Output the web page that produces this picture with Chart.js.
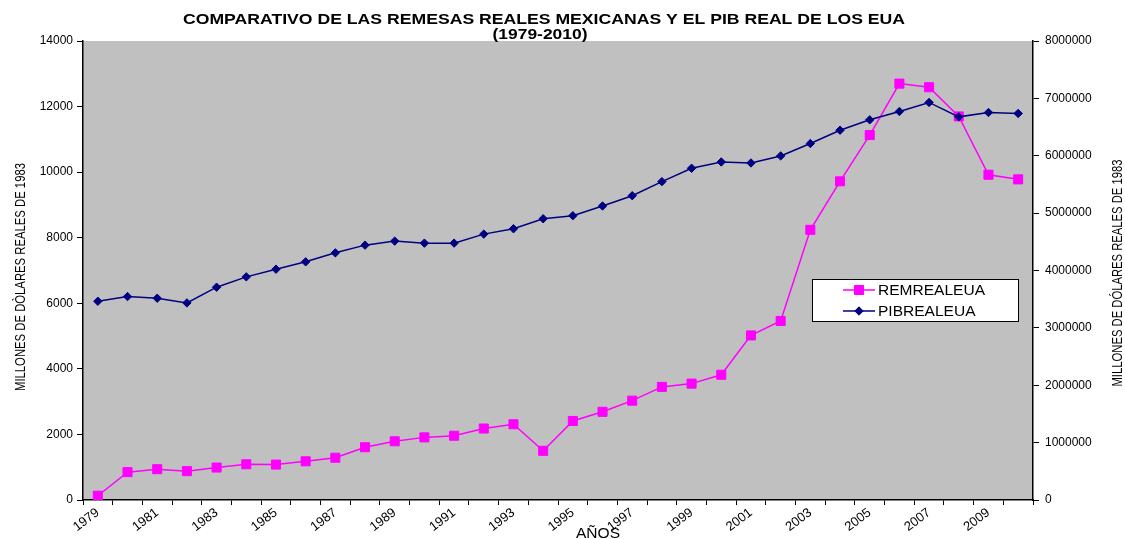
<!DOCTYPE html>
<html lang="es">
<head>
    <meta charset="UTF-8">
    <title>Remesas y PIB</title>
    <script src="https://cdn.jsdelivr.net/npm/chart.js"></script>
    <style>
        body { margin: 0; background: #ffffff; }
        canvas { display: block; }
    </style>
</head>
<body>
    <canvas id="remChart" width="1125" height="539"></canvas>
    <script>
        const years = ['1979', '1980', '1981', '1982', '1983', '1984', '1985', '1986',
            '1987', '1988', '1989', '1990', '1991', '1992', '1993', '1994',
            '1995', '1996', '1997', '1998', '1999', '2000', '2001', '2002',
            '2003', '2004', '2005', '2006', '2007', '2008', '2009', '2010'];

        // millones de dolares reales de 1983 (eje izquierdo)
        const remRealEua = [130, 850, 940, 880, 990, 1090, 1080, 1180,
            1290, 1610, 1790, 1910, 1960, 2180, 2310, 1500,
            2410, 2690, 3030, 3450, 3550, 3820, 5020, 5460,
            8240, 9720, 11130, 12700, 12590, 11700, 9920, 9780];

        // eje derecho
        const pibRealEua = [3464000, 3546000, 3517000, 3435000, 3709000, 3889000, 4023000, 4151000,
            4308000, 4442000, 4512000, 4477000, 4477000, 4634000, 4728000, 4902000,
            4955000, 5124000, 5304000, 5549000, 5782000, 5892000, 5874000, 5997000,
            6213000, 6445000, 6626000, 6772000, 6929000, 6678000, 6754000, 6737000];

        const seriesNames = ['REMREALEUA', 'PIBREALEUA'];
        const titleLines = ['COMPARATIVO DE LAS REMESAS REALES MEXICANAS Y EL PIB REAL DE LOS EUA', '(1979-2010)'];
        const leftTitle = 'MILLONES DE DÒLARES REALES DE 1983';
        const rightTitle = 'MILLONES DE DÓLARES REALES DE 1983';
        const xTitle = 'AÑOS';

        const FONT = "'Liberation Sans', Arial, sans-serif";

        // draws text squeezed/stretched to a given width (the original picture is stretched)
        function fitText(ctx, text, x, y, font, width, rot) {
            ctx.save();
            ctx.font = font;
            const k = width / ctx.measureText(text).width;
            ctx.translate(x, y);
            if (rot) ctx.rotate(rot);
            ctx.scale(k, 1);
            ctx.textAlign = 'center';
            ctx.textBaseline = 'alphabetic';
            ctx.fillStyle = '#000';
            ctx.fillText(text, 0, 0);
            ctx.restore();
            return k;
        }

        const decor = {
            id: 'decor',
            beforeDraw(chart) {
                const a = chart.chartArea;
                const ctx = chart.ctx;
                ctx.save();
                ctx.fillStyle = '#C0C0C0';
                ctx.fillRect(a.left, a.top, a.right - a.left, a.bottom - a.top);
                ctx.restore();
            },
            afterDraw(chart) {
                const ctx = chart.ctx;
                fitText(ctx, titleLines[0], 544, 24, 'bold 15px ' + FONT, 722);
                fitText(ctx, titleLines[1], 540, 39, 'bold 15px ' + FONT, 95);
                fitText(ctx, leftTitle, 25, 277, '15px ' + FONT, 228, -Math.PI / 2);
                fitText(ctx, rightTitle, 1122, 273, '15px ' + FONT, 227, -Math.PI / 2);
                fitText(ctx, xTitle, 598, 538, '14px ' + FONT, 44);

                // legend box
                ctx.save();
                ctx.fillStyle = '#fff';
                ctx.fillRect(812, 279, 206, 42);
                ctx.strokeStyle = '#000';
                ctx.lineWidth = 1;
                ctx.strokeRect(812.5, 279.5, 206, 42);
                ctx.font = '14px ' + FONT;
                const k = 107 / ctx.measureText(seriesNames[0]).width;
                const rows = [290, 311];
                chart.data.datasets.forEach((ds, i) => {
                    const y = rows[i];
                    ctx.strokeStyle = ds.borderColor;
                    ctx.lineWidth = ds.borderWidth;
                    ctx.beginPath();
                    ctx.moveTo(843, y);
                    ctx.lineTo(875, y);
                    ctx.stroke();
                    ctx.fillStyle = ds.pointBackgroundColor;
                    ctx.strokeStyle = ds.pointBorderColor;
                    ctx.lineWidth = 1;
                    Chart.helpers.drawPoint(ctx, {
                        pointStyle: ds.pointStyle,
                        radius: ds.pointRadius,
                        rotation: 0,
                        borderWidth: 1
                    }, 859, y);
                    ctx.save();
                    ctx.translate(878, y + 5);
                    ctx.scale(k, 1);
                    ctx.fillStyle = '#000';
                    ctx.textAlign = 'left';
                    ctx.fillText(ds.label, 0, 0);
                    ctx.restore();
                });
                ctx.restore();
            }
        };

        const ctx = document.getElementById('remChart').getContext('2d');
        new Chart(ctx, {
            type: 'line',
            data: {
                labels: years,
                datasets: [{
                    label: seriesNames[0],
                    data: remRealEua,
                    yAxisID: 'y',
                    borderColor: '#FF00FF',
                    backgroundColor: '#FF00FF',
                    pointBackgroundColor: '#FF00FF',
                    pointBorderColor: '#FF00FF',
                    borderWidth: 1.5,
                    pointStyle: 'rect',
                    pointRadius: 6.4,
                    pointBorderWidth: 1,
                    tension: 0,
                    order: 2
                }, {
                    label: seriesNames[1],
                    data: pibRealEua,
                    yAxisID: 'y1',
                    borderColor: '#000080',
                    backgroundColor: '#000080',
                    pointBackgroundColor: '#000080',
                    pointBorderColor: '#000080',
                    borderWidth: 1.5,
                    pointStyle: 'rectRot',
                    pointRadius: 4.2,
                    pointBorderWidth: 1,
                    tension: 0,
                    order: 1
                }]
            },
            options: {
                responsive: false,
                animation: false,
                layout: { padding: { top: 41 } },
                plugins: {
                    legend: { display: false },
                    title: { display: false },
                    tooltip: { enabled: false }
                },
                scales: {
                    x: {
                        offset: true,
                        afterFit: s => { s.height = 39; },
                        grid: {
                            offset: true,
                            drawOnChartArea: false,
                            tickLength: 5,
                            color: '#000'
                        },
                        border: { color: '#000', width: 1.5 },
                        ticks: {
                            autoSkip: false,
                            minRotation: 37,
                            maxRotation: 37,
                            padding: 0,
                            color: '#000',
                            font: { family: FONT, size: 13 },
                            callback: (v, i) => i % 2 === 0 ? years[i] : ''
                        }
                    },
                    y: {
                        position: 'left',
                        min: 0,
                        max: 14000,
                        afterFit: s => { s.width = 83; },
                        grid: {
                            drawOnChartArea: false,
                            tickLength: 6,
                            color: '#000'
                        },
                        border: { color: '#000', width: 1.5 },
                        ticks: {
                            stepSize: 2000,
                            padding: 4,
                            color: '#000',
                            font: { family: FONT, size: 12 },
                            callback: v => String(v)
                        }
                    },
                    y1: {
                        position: 'right',
                        min: 0,
                        max: 8000000,
                        afterFit: s => { s.width = 92; },
                        grid: {
                            drawOnChartArea: false,
                            tickLength: 6,
                            color: '#000'
                        },
                        border: { color: '#000', width: 1.5 },
                        ticks: {
                            stepSize: 1000000,
                            padding: 6,
                            color: '#000',
                            font: { family: FONT, size: 12 },
                            callback: v => String(v)
                        }
                    }
                }
            },
            plugins: [decor]
        });
    </script>
</body>
</html>
